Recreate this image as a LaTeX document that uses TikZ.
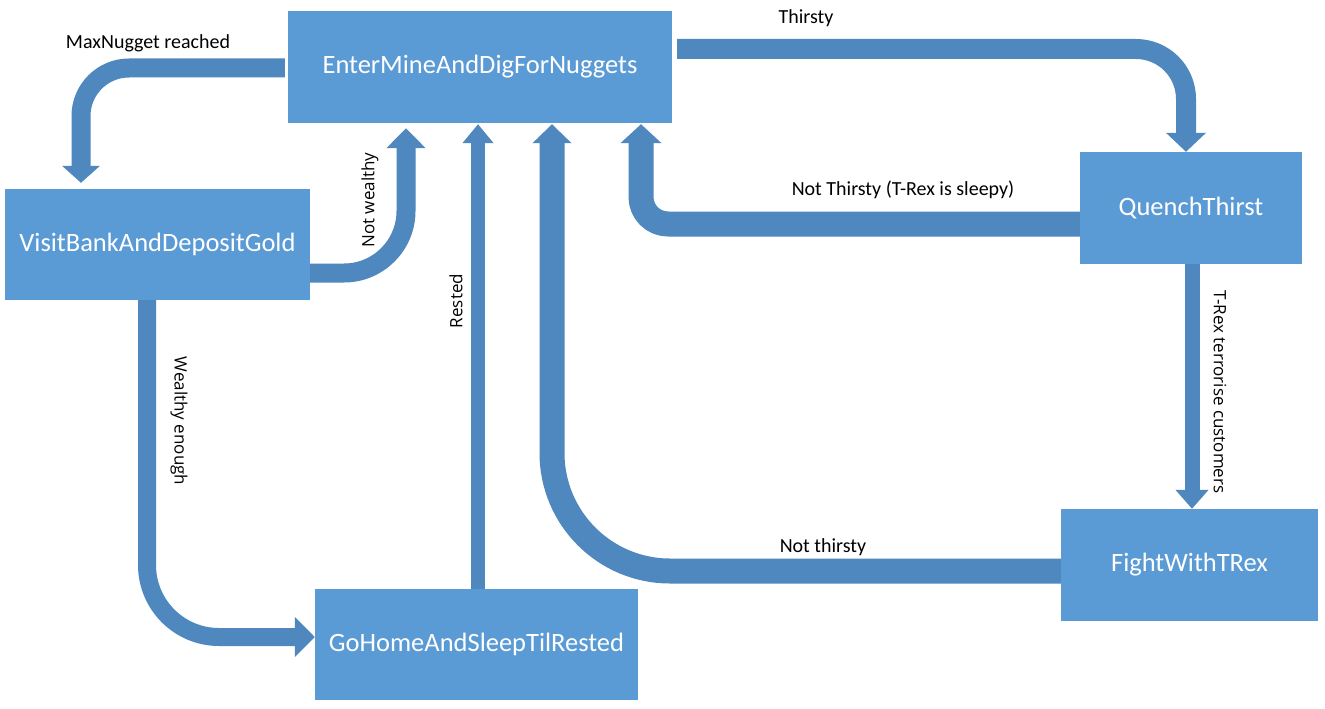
\documentclass[tikz,border=0pt]{standalone}
\usepackage{fontspec}
\setmainfont{Carlito}
\newfontfamily\vfont{Open Sans}
\usetikzlibrary{arrows.meta,calc}
\definecolor{boxblue}{HTML}{5B9BD5}
\definecolor{arrblue}{HTML}{4F87BF}
\begin{document}
\begin{tikzpicture}[x=1pt,y=-1pt,
  state/.style={draw=none,fill=boxblue,text=white,font=\fontsize{26.5}{30}\selectfont,inner sep=0pt},
  conn/.style={draw=arrblue,line join=round},
  lbl/.style={text=black,font=\fontsize{20}{24}\selectfont,inner sep=0pt},
  vlbl/.style={text=black,font=\vfont\fontsize{17}{20}\selectfont,inner sep=0pt}]
\useasboundingbox (0,0) rectangle (1325,709);
\fill[white] (0,0) rectangle (1325,709);
% states
\node[state,minimum width=384pt,minimum height=112pt] (enter) at (480,67) {EnterMineAndDigForNuggets};
\node[state,minimum width=305pt,minimum height=111pt] (visit) at (157.5,244.5) {VisitBankAndDepositGold};
\node[state,minimum width=222pt,minimum height=112pt] (quench) at (1191,208) {QuenchThirst};
\node[state,minimum width=257pt,minimum height=112pt] (fight) at (1189.5,565) {FightWithTRex};
\node[state,minimum width=323pt,minimum height=111pt] (gohome) at (476.5,644.5) {GoHomeAndSleepTilRested};
% connectors
\draw[conn,line width=19pt,rounded corners=48pt,-{Triangle[width=37pt,length=17pt]}]
  ($(enter.west)+(-3,1)$) -| ($(visit.north)+(-76.5,-6)$);
\draw[conn,line width=19pt,rounded corners=62pt,-{Triangle[width=38pt,length=20pt]}]
  ($(visit.east)+(0,28.5)$) -| ($(enter.south)+(-74,5)$);
\draw[conn,line width=14pt,-{Triangle[width=30pt,length=19pt]}]
  ($(gohome.north)+(1.5,0)$) -- ($(enter.south)+(-2,1)$);
\draw[conn,line width=25pt,rounded corners=118pt,-{Triangle[width=38pt,length=19pt]}]
  ($(fight.west)+(0,6)$) -| ($(enter.south)+(72,1)$);
\draw[conn,line width=25pt,rounded corners=27pt,-{Triangle[width=40pt,length=19pt]}]
  ($(quench.west)+(0,16)$) -| ($(enter.south)+(161,1)$);
\draw[conn,line width=20pt,rounded corners=50pt,-{Triangle[width=39pt,length=19pt]}]
  ($(enter.east)+(5,-18)$) -| ($(quench.north)+(-5,0)$);
\draw[conn,line width=15pt,-{Triangle[width=32pt,length=19pt]}]
  ($(quench.south)+(1,0)$) -- ($(fight.north)+(2.5,0)$);
\draw[conn,line width=18pt,rounded corners=72pt,-{Triangle[width=39pt,length=20pt]}]
  ($(visit.south)+(-10.5,0)$) |- ($(gohome.west)+(0,-7.5)$);
% labels
\node[lbl] (lmax) at (148,43) {MaxNugget reached};
\node[lbl] (lthirsty) at (806,18) {Thirsty};
\node[lbl] (lsleepy) at (903,190) {Not Thirsty (T-Rex is sleepy)};
\node[lbl] (lnotthirsty) at (823,547) {Not thirsty};
\node[vlbl,rotate=90] (lnotwealthy) at (370,200) {Not wealthy};
\node[vlbl,rotate=90] (lrested) at (456,301) {Rested};
\node[vlbl,rotate=-90] (lwealthy) at (179,421) {Wealthy enough};
\node[vlbl,rotate=-90] (ltrex) at (1220,392) {T-Rex terrorise customers};
\end{tikzpicture}
\end{document}
